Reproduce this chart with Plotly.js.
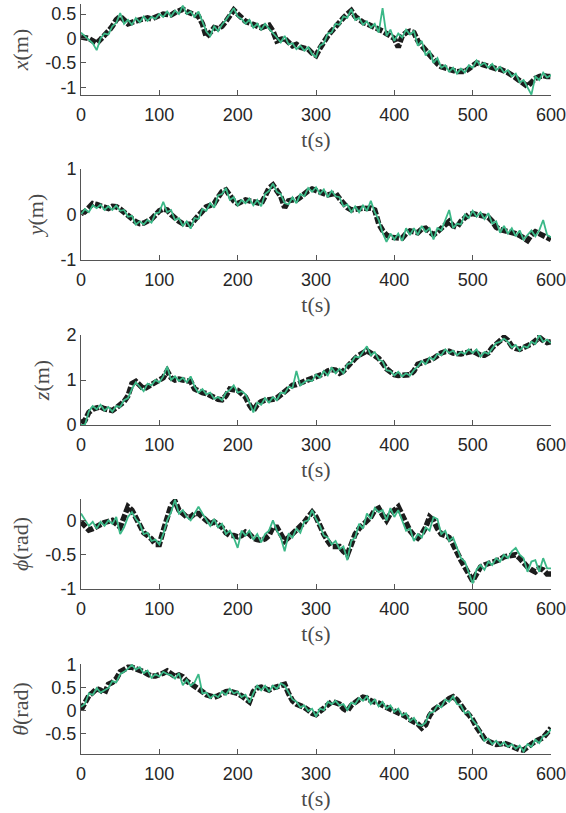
<!DOCTYPE html>
<html>
<head>
<meta charset="utf-8">
<script src="https://cdn.plot.ly/plotly-3.0.1.min.js"></script>
<style>html,body{margin:0;padding:0;background:#fff;}#chart{width:566px;height:813px;}</style>
</head>
<body>
<div id="chart"></div>
<script>
// time grid (s), one sample every 5 s
const t = Array.from({length: 121}, (_, i) => i * 5);

const xTickVals = [0, 100, 200, 300, 400, 500, 600];

// x(m)
const xRef = [0.03,0.02,0.0,-0.05,-0.1,-0.02,0.05,0.15,0.25,0.38,
0.45,0.38,0.3,0.33,0.37,0.38,0.4,0.42,0.4,0.45,
0.47,0.5,0.5,0.48,0.53,0.58,0.6,0.55,0.52,0.5,
0.45,0.3,0.03,0.12,0.22,0.2,0.25,0.35,0.47,0.58,
0.5,0.42,0.35,0.32,0.28,0.25,0.22,0.25,0.27,0.15,
-0.05,-0.02,0.0,-0.08,-0.15,-0.12,-0.18,-0.2,-0.22,-0.3,
-0.35,-0.2,-0.05,0.05,0.15,0.25,0.33,0.42,0.5,0.57,
0.45,0.38,0.33,0.3,0.27,0.22,0.18,0.15,0.1,0.05,
0.0,-0.18,0.05,0.12,0.15,0.12,-0.05,-0.15,-0.25,-0.35,
-0.45,-0.52,-0.58,-0.6,-0.62,-0.65,-0.68,-0.67,-0.68,-0.62,
-0.55,-0.5,-0.52,-0.55,-0.57,-0.6,-0.62,-0.63,-0.66,-0.7,
-0.75,-0.8,-0.88,-0.93,-0.98,-0.9,-0.82,-0.78,-0.76,-0.78,
-0.78];
const xEst = [0.12,0.05,-0.02,-0.1,-0.24,0.0,0.1,0.08,0.25,0.32,
0.52,0.3,0.38,0.28,0.42,0.33,0.45,0.36,0.44,0.4,
0.5,0.44,0.55,0.45,0.57,0.5,0.67,0.5,0.55,0.44,
0.55,0.35,0.14,0.05,0.25,0.15,0.28,0.38,0.5,0.62,
0.45,0.4,0.3,0.38,0.22,0.3,0.18,0.3,0.2,0.12,
0.02,-0.08,0.05,-0.12,-0.1,-0.22,-0.15,-0.25,-0.18,-0.32,
-0.38,-0.15,-0.1,0.1,0.12,0.3,0.28,0.45,0.42,0.6,
0.38,0.42,0.28,0.35,0.22,0.3,0.12,0.62,0.05,0.18,
-0.05,0.1,0.02,0.18,0.08,0.15,-0.15,-0.05,-0.35,-0.25,
-0.5,-0.4,-0.6,-0.55,-0.68,-0.6,-0.72,-0.62,-0.7,-0.55,
-0.6,-0.45,-0.55,-0.5,-0.6,-0.52,-0.65,-0.58,-0.7,-0.65,
-0.78,-0.72,-0.9,-0.85,-1.0,-1.15,-0.78,-0.85,-0.7,-0.8,
-0.75];

// y(m)
const yRef = [0.02,0.06,0.15,0.24,0.22,0.2,0.16,0.13,0.18,0.17,
0.12,0.06,0.0,-0.09,-0.16,-0.2,-0.19,-0.16,-0.1,-0.01,
0.08,0.12,0.1,0.0,-0.09,-0.15,-0.2,-0.22,-0.22,-0.12,
-0.01,0.1,0.17,0.2,0.24,0.38,0.5,0.54,0.39,0.3,
0.24,0.28,0.32,0.3,0.28,0.26,0.24,0.4,0.58,0.65,
0.54,0.4,0.15,0.3,0.32,0.32,0.38,0.47,0.52,0.56,
0.52,0.5,0.46,0.43,0.45,0.47,0.35,0.24,0.15,0.1,
0.12,0.13,0.14,0.13,0.14,0.1,-0.2,-0.35,-0.45,-0.5,
-0.5,-0.5,-0.52,-0.42,-0.36,-0.38,-0.4,-0.32,-0.3,-0.38,
-0.45,-0.38,-0.3,-0.2,-0.15,-0.25,-0.28,-0.15,-0.06,0.0,
0.02,0.0,-0.02,-0.03,-0.06,-0.15,-0.28,-0.33,-0.35,-0.36,
-0.4,-0.42,-0.46,-0.52,-0.57,-0.45,-0.38,-0.42,-0.46,-0.5,
-0.55];
const yEst = [0.0,0.12,0.05,0.2,0.14,0.22,0.1,0.18,0.1,0.2,
0.08,0.1,-0.05,-0.03,-0.22,-0.15,-0.22,-0.12,-0.18,0.02,
0.05,0.28,0.05,0.1,-0.12,-0.08,-0.25,-0.15,-0.31,-0.08,
-0.1,0.12,0.08,0.25,0.15,0.42,0.45,0.58,0.32,0.38,
0.2,0.32,0.25,0.35,0.2,0.32,0.18,0.45,0.52,0.68,
0.5,0.45,0.25,0.22,0.38,0.25,0.45,0.4,0.58,0.5,
0.6,0.45,0.55,0.38,0.52,0.4,0.38,0.18,0.22,0.05,
0.18,0.05,0.2,0.08,0.3,0.05,-0.12,-0.4,-0.6,-0.42,
-0.55,-0.42,-0.58,-0.3,-0.45,-0.3,-0.45,-0.25,-0.38,-0.3,
-0.55,-0.3,-0.35,-0.1,0.1,-0.3,-0.2,-0.22,0.0,-0.08,
0.08,-0.05,0.05,-0.1,0.03,-0.2,-0.15,-0.4,-0.25,-0.42,
-0.3,-0.48,-0.35,-0.55,-0.45,-0.35,-0.48,-0.35,-0.12,-0.45,
-0.5];

// z(m)
const zRef = [0.05,0.1,0.28,0.35,0.38,0.4,0.36,0.33,0.32,0.38,
0.45,0.52,0.65,0.92,0.97,0.9,0.8,0.85,0.9,0.95,
0.98,1.05,1.2,1.05,1.0,1.02,1.0,0.98,0.97,0.8,
0.75,0.72,0.7,0.65,0.6,0.57,0.56,0.65,0.8,0.8,
0.77,0.7,0.62,0.45,0.32,0.45,0.52,0.55,0.55,0.57,
0.6,0.68,0.75,0.82,0.88,0.9,0.93,0.98,1.02,1.05,
1.08,1.1,1.14,1.2,1.23,1.22,1.15,1.2,1.3,1.4,
1.48,1.55,1.6,1.65,1.6,1.55,1.48,1.38,1.25,1.18,
1.12,1.1,1.1,1.12,1.12,1.2,1.35,1.38,1.4,1.44,
1.48,1.55,1.6,1.63,1.64,1.6,1.58,1.58,1.6,1.62,
1.64,1.6,1.55,1.55,1.6,1.72,1.8,1.9,1.95,1.88,
1.75,1.7,1.68,1.72,1.75,1.8,1.87,1.95,1.88,1.83,
1.85];
const zEst = [0.0,0.0,0.3,0.42,0.35,0.45,0.32,0.4,0.3,0.42,
0.4,0.55,0.6,0.8,0.95,0.85,0.75,0.92,0.88,1.0,
0.95,1.08,1.3,1.0,1.08,0.98,1.05,0.95,1.08,0.85,
0.72,0.8,0.68,0.72,0.58,0.62,0.55,0.72,0.78,0.88,
0.72,0.75,0.68,0.5,0.28,0.5,0.45,0.6,0.5,0.62,
0.55,0.72,0.7,0.85,0.82,1.2,0.88,0.95,1.0,0.98,
1.12,1.05,1.2,1.1,1.28,1.15,1.25,1.15,1.35,1.38,
1.52,1.5,1.62,1.75,1.55,1.62,1.45,1.42,1.22,1.2,
1.1,1.18,1.08,1.15,1.1,1.22,1.3,1.42,1.35,1.5,
1.45,1.58,1.55,1.68,1.6,1.65,1.55,1.62,1.58,1.68,
1.6,1.68,1.52,1.62,1.58,1.7,1.82,1.85,1.92,1.85,
1.72,1.78,1.65,1.75,1.72,1.85,1.8,2.0,1.85,1.9,
1.82];

// phi(rad)
const phiRef = [-0.02,-0.08,-0.14,-0.12,-0.1,-0.06,-0.03,-0.02,0.0,-0.05,
-0.1,0.05,0.2,0.15,0.05,-0.08,-0.18,-0.22,-0.27,-0.35,
-0.35,-0.15,0.05,0.22,0.28,0.15,0.1,0.05,0.05,0.1,
0.1,0.05,-0.02,-0.05,-0.02,-0.05,-0.1,-0.18,-0.22,-0.22,
-0.24,-0.22,-0.17,-0.2,-0.26,-0.28,-0.29,-0.27,-0.22,-0.1,
-0.1,-0.2,-0.3,-0.25,-0.2,-0.15,-0.1,-0.03,0.05,0.12,
0.05,-0.1,-0.2,-0.3,-0.38,-0.38,-0.38,-0.45,-0.5,-0.35,
-0.2,-0.12,-0.06,0.0,0.05,0.15,0.18,0.08,0.0,0.1,
0.15,0.2,0.08,-0.05,-0.15,-0.22,-0.26,-0.2,-0.1,0.05,
0.0,-0.12,-0.2,-0.22,-0.25,-0.35,-0.48,-0.58,-0.68,-0.8,
-0.88,-0.78,-0.68,-0.65,-0.63,-0.62,-0.6,-0.57,-0.53,-0.52,
-0.52,-0.5,-0.55,-0.62,-0.68,-0.72,-0.75,-0.7,-0.72,-0.78,
-0.78];
const phiEst = [0.1,0.0,-0.08,-0.02,-0.12,-0.02,-0.08,0.0,-0.05,0.05,
-0.2,-0.1,0.05,0.12,0.02,-0.05,-0.2,-0.18,-0.3,-0.28,
-0.35,-0.2,0.0,0.12,0.3,0.1,0.15,0.05,0.0,0.1,
0.2,0.1,0.0,-0.08,0.02,-0.1,-0.05,-0.2,-0.15,-0.25,
-0.4,-0.15,-0.22,-0.15,-0.28,-0.2,-0.32,-0.2,-0.15,0.0,
-0.15,-0.25,-0.45,-0.2,-0.25,-0.12,-0.18,-0.02,0.0,0.15,
0.02,-0.08,-0.22,-0.25,-0.35,-0.3,-0.42,-0.38,-0.58,-0.3,
-0.25,-0.05,-0.12,0.1,0.02,0.18,0.12,0.15,0.0,0.18,
0.05,0.15,0.0,-0.15,-0.12,-0.3,-0.2,-0.25,-0.1,-0.15,
0.05,0.02,-0.2,-0.15,-0.3,-0.25,-0.4,-0.55,-0.6,-0.75,
-0.92,-0.72,-0.65,-0.72,-0.6,-0.65,-0.55,-0.6,-0.5,-0.55,
-0.45,-0.4,-0.5,-0.55,-0.75,-0.6,-0.58,-0.75,-0.55,-0.7,
-0.7];

// theta(rad)
const thRef = [0.02,0.2,0.33,0.4,0.48,0.45,0.38,0.58,0.62,0.7,
0.85,0.9,0.95,0.95,0.92,0.9,0.85,0.8,0.76,0.76,
0.78,0.82,0.87,0.8,0.75,0.78,0.74,0.65,0.6,0.55,
0.48,0.42,0.35,0.32,0.3,0.33,0.38,0.42,0.43,0.42,
0.38,0.33,0.27,0.2,0.42,0.5,0.52,0.48,0.45,0.5,
0.53,0.58,0.58,0.38,0.22,0.15,0.12,0.08,0.02,-0.05,
-0.08,0.0,0.08,0.15,0.2,0.18,0.15,0.05,0.0,0.12,
0.2,0.25,0.3,0.28,0.22,0.2,0.17,0.12,0.08,0.05,
0.02,-0.02,-0.05,-0.12,-0.19,-0.22,-0.28,-0.37,-0.3,-0.1,
0.02,0.08,0.13,0.2,0.27,0.31,0.24,0.1,0.0,-0.08,
-0.19,-0.35,-0.5,-0.6,-0.66,-0.7,-0.73,-0.72,-0.7,-0.73,
-0.77,-0.8,-0.84,-0.85,-0.8,-0.72,-0.66,-0.62,-0.58,-0.48,
-0.37];
const thEst = [0.09,0.15,0.38,0.35,0.5,0.4,0.45,0.5,0.65,0.62,
0.8,0.85,0.92,1.0,0.9,0.95,0.82,0.88,0.72,0.8,
0.75,0.85,0.8,0.78,0.7,0.82,0.56,0.68,0.55,0.62,
0.8,0.38,0.4,0.28,0.35,0.3,0.42,0.35,0.48,0.38,
0.42,0.3,0.35,0.18,0.38,0.55,0.45,0.55,0.42,0.55,
0.48,0.6,0.55,0.4,0.25,0.2,0.08,0.12,0.0,0.05,
-0.12,0.05,0.02,0.2,0.15,0.22,0.12,0.15,0.02,0.18,
0.15,0.28,0.22,0.32,0.15,0.25,0.1,0.2,0.05,0.12,
-0.02,0.05,-0.1,-0.05,-0.22,-0.15,-0.3,-0.32,-0.25,-0.05,
-0.02,0.12,0.08,0.25,0.2,0.32,0.15,0.12,-0.05,-0.02,
-0.2,-0.3,-0.45,-0.65,-0.6,-0.72,-0.65,-0.75,-0.68,-0.78,
-0.72,-0.82,-0.75,-0.88,-0.72,-0.78,-0.62,-0.7,-0.55,-0.5,
-0.4];

const yLabels = ['<i>x</i>(m)', '<i>y</i>(m)', '<i>z</i>(m)', '<i>ϕ</i>(rad)', '<i>θ</i>(rad)'];
const xLabel = 't(s)';
const yTicks = [[-1, -0.5, 0, 0.5], [-1, 0, 1], [0, 1, 2], [-1, -0.5, 0], [-0.5, 0, 0.5, 1]];
const yRanges = [[-1.158, 0.705], [-1, 1], [0, 2], [-1, 0.312], [-0.935, 1.02]];
const refSeries = [xRef, yRef, zRef, phiRef, thRef];
const estSeries = [xEst, yEst, zEst, phiEst, thEst];

// layout geometry (pixels from top of the figure)
const H = 813, W = 566;
const mt = 4, mb = 59, ml = 81, mr = 14.5;
const panels = [[4, 95], [169, 260], [335, 425], [499, 589], [664, 754]];
const plotH = H - mt - mb;

const axisColor = '#555555';
const tickFont = {family: 'Liberation Sans, Arial, sans-serif', size: 18, color: '#262626'};
const titleFont = {family: 'Liberation Serif, Times New Roman, serif', size: 22, color: '#4a4a4a'};

const data = [];
const layout = {
  width: W, height: H,
  margin: {l: ml, r: mr, t: mt, b: mb, pad: 0},
  paper_bgcolor: '#ffffff', plot_bgcolor: '#ffffff',
  showlegend: false
};

for (let i = 0; i < 5; i++) {
  const sfx = i === 0 ? '' : String(i + 1);
  const xa = 'x' + sfx, ya = 'y' + sfx;
  data.push({
    x: t, y: refSeries[i], xaxis: xa, yaxis: ya, type: 'scatter', mode: 'lines',
    line: {color: '#1c1c1c', width: 5.5, dash: '7px,2px'}, hoverinfo: 'skip'
  });
  data.push({
    x: t, y: estSeries[i], xaxis: xa, yaxis: ya, type: 'scatter', mode: 'lines',
    line: {color: '#3bb887', width: 1.8}, hoverinfo: 'skip'
  });
  const top = panels[i][0], bot = panels[i][1];
  const dom = [(H - mb - bot) / plotH, (H - mb - top) / plotH];
  layout['xaxis' + sfx] = {
    anchor: ya, domain: [0, 1], range: [0, 600],
    tickvals: xTickVals, ticktext: xTickVals.map(String),
    ticks: 'inside', ticklen: 5, tickcolor: axisColor, tickwidth: 1,
    showline: true, linecolor: axisColor, linewidth: 1,
    showgrid: false, zeroline: false, tickfont: tickFont,
    ticklabeloverflow: 'allow', ticklabelstandoff: 3,
    title: {text: xLabel, font: titleFont, standoff: 8}
  };
  layout['yaxis' + sfx] = {
    anchor: xa, domain: dom, range: yRanges[i],
    tickvals: yTicks[i], ticktext: yTicks[i].map(String),
    ticks: 'inside', ticklen: 5, tickcolor: axisColor, tickwidth: 1,
    showline: true, linecolor: axisColor, linewidth: 1,
    showgrid: false, zeroline: false, tickfont: tickFont,
    ticklabeloverflow: 'allow',
    title: {text: yLabels[i], font: titleFont, standoff: 10}
  };
}

Plotly.newPlot('chart', data, layout, {displayModeBar: false, staticPlot: true});
</script>
</body>
</html>
